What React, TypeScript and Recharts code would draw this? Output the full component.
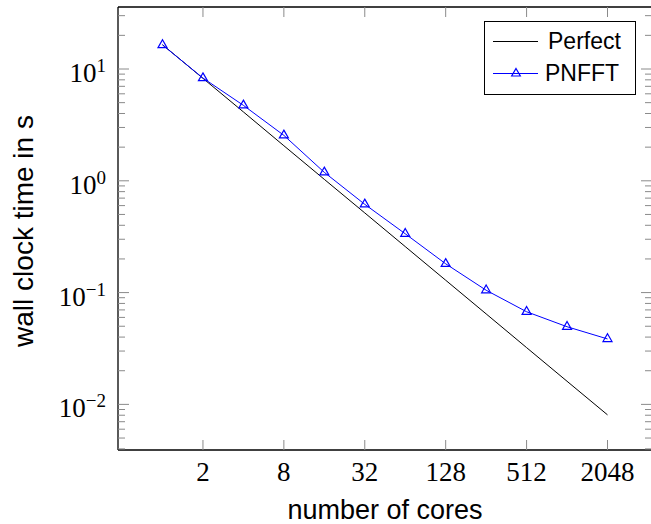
import React from 'react';
import { LineChart, Line, XAxis, YAxis, Legend } from 'recharts';

// number of cores (log2 axis) and wall clock times in seconds (log10 axis)
const cores = [1, 2, 4, 8, 16, 32, 64, 128, 256, 512, 1024, 2048];
const perfect = [16.5, 8.25, 4.13, 2.06, 1.03, 0.516, 0.258, 0.129, 0.0645, 0.0322, 0.0161, 0.00806];
const pnfft = [16.4, 8.3, 4.73, 2.55, 1.19, 0.616, 0.336, 0.181, 0.105, 0.0674, 0.0495, 0.0385];

const xTicks = [2, 8, 32, 128, 512, 2048];
const yMajor = [0.01, 0.1, 1, 10];
const yTicks = [
  0.004, 0.005, 0.006, 0.007, 0.008, 0.009,
  0.01, 0.02, 0.03, 0.04, 0.05, 0.06, 0.07, 0.08, 0.09,
  0.1, 0.2, 0.3, 0.4, 0.5, 0.6, 0.7, 0.8, 0.9,
  1, 2, 3, 4, 5, 6, 7, 8, 9,
  10, 20, 30,
];

const xDomain = [Math.pow(2, -1.1), Math.pow(2, 12.1)];
const yDomain = [Math.pow(10, -2.408), Math.pow(10, 1.5546)];

const data = cores.map((c, i) => ({ cores: c, perfect: perfect[i], pnfft: pnfft[i] }));

const SERIF = "'Liberation Serif', 'Times New Roman', serif";
const SANS = "'Liberation Sans', Arial, sans-serif";
const TICK_COLOR = '#8a8a8a';
const BLUE = '#0000ff';

const isMajor = (v: number) => yMajor.includes(v);

// left axis: ticks point inward, labels 10^n on decades
const LeftTick = (props: any) => {
  const { x, y, payload } = props;
  const v = payload.value;
  const ax = x + 12;
  const major = isMajor(v);
  const e = Math.round(Math.log10(v));
  return (
    <g>
      <line x1={ax} x2={ax + (major ? 11 : 7)} y1={y} y2={y} stroke={TICK_COLOR} strokeWidth={1} />
      {major && (
        <text x={x} y={y + 13} textAnchor="end" fontFamily={SERIF} fontSize={27} fill="#000">
          10
          <tspan dy={-10} fontSize={19}>{e < 0 ? '\u2212' + Math.abs(e) : String(e)}</tspan>
        </text>
      )}
    </g>
  );
};

const RightTick = (props: any) => {
  const { x, y, payload } = props;
  const major = isMajor(payload.value);
  return <line x1={x} x2={x - (major ? 11 : 7)} y1={y} y2={y} stroke={TICK_COLOR} strokeWidth={1} />;
};

const BottomTick = (props: any) => {
  const { x, y, payload } = props;
  return (
    <g>
      <line x1={x} x2={x} y1={y} y2={y - 10} stroke={TICK_COLOR} strokeWidth={1} />
      <text x={x} y={y + 31} textAnchor="middle" fontFamily={SERIF} fontSize={27} fill="#000">
        {payload.value}
      </text>
    </g>
  );
};

const TopTick = (props: any) => {
  const { x, y } = props;
  return <line x1={x} x2={x} y1={y} y2={y + 10} stroke={TICK_COLOR} strokeWidth={1} />;
};

const triangle = (cx: number, cy: number, r: number) =>
  `M${cx},${cy - r} L${cx + r * 0.866},${cy + r / 2} L${cx - r * 0.866},${cy + r / 2} Z`;

const renderTriangle = (p: any) => (
  <path key={`tri-${p.index}`} d={triangle(p.cx, p.cy, 5.2)} fill="none" stroke={BLUE} strokeWidth={1.2} />
);

const renderYLabel = (p: any) => {
  const vb = p.viewBox;
  const cx = vb.x + 33;
  const cy = vb.y + vb.height / 2 + 2.5;
  return (
    <text x={cx} y={cy} transform={`rotate(-90 ${cx} ${cy})`} textAnchor="middle" fontFamily={SANS} fontSize={28} fill="#000">
      wall clock time in s
    </text>
  );
};

const renderXLabel = (p: any) => {
  const vb = p.viewBox;
  return (
    <text x={vb.x + vb.width / 2} y={vb.y + 69} textAnchor="middle" fontFamily={SANS} fontSize={27} fill="#000">
      number of cores
    </text>
  );
};

const LegendBox = () => (
  <svg width={152} height={74} style={{ display: 'block' }}>
    <rect x={0.5} y={0.5} width={151} height={73} fill="#fff" stroke="#000" strokeWidth={1} />
    <line x1={9} x2={54} y1={20.5} y2={20.5} stroke="#000" strokeWidth={1} />
    <text x={64} y={28} fontFamily={SANS} fontSize={23} fill="#000">Perfect</text>
    <line x1={9} x2={54} y1={52.5} y2={52.5} stroke={BLUE} strokeWidth={1} />
    <path d={triangle(32, 52.5, 5)} fill="none" stroke={BLUE} strokeWidth={1.2} />
    <text x={61} y={60} fontFamily={SANS} fontSize={23} fill="#000">PNFFT</text>
  </svg>
);

export default function App() {
  return (
    <div style={{ position: 'absolute', left: 0, top: 0, width: 651, height: 524, overflow: 'hidden', background: '#fff' }}>
      <LineChart width={660} height={524} data={data} margin={{ top: 0, right: 0, bottom: 0, left: 0 }}>
        <XAxis
          xAxisId="bottom"
          dataKey="cores"
          type="number"
          scale="log"
          domain={xDomain}
          allowDataOverflow
          ticks={xTicks}
          interval={0}
          height={74}
          tickSize={0}
          tickMargin={0}
          tick={<BottomTick />}
          axisLine={{ stroke: '#000', strokeWidth: 1.3 }}
          label={renderXLabel}
        />
        <XAxis
          xAxisId="top"
          orientation="top"
          dataKey="cores"
          type="number"
          scale="log"
          domain={xDomain}
          allowDataOverflow
          ticks={xTicks}
          interval={0}
          height={7}
          tickSize={0}
          tickMargin={0}
          tick={<TopTick />}
          axisLine={{ stroke: '#000', strokeWidth: 1.3 }}
        />
        <YAxis
          yAxisId="left"
          type="number"
          scale="log"
          domain={yDomain}
          allowDataOverflow
          ticks={yTicks}
          interval={0}
          width={118}
          tickSize={0}
          tickMargin={12}
          tick={<LeftTick />}
          axisLine={{ stroke: '#000', strokeWidth: 1.3 }}
          label={renderYLabel}
        />
        <YAxis
          yAxisId="right"
          orientation="right"
          type="number"
          scale="log"
          domain={yDomain}
          allowDataOverflow
          ticks={yTicks}
          interval={0}
          width={8}
          tickSize={0}
          tickMargin={0}
          tick={<RightTick />}
          axisLine={{ stroke: '#000', strokeWidth: 1.3 }}
        />
        <Legend
          layout="horizontal"
          align="center"
          verticalAlign="middle"
          content={<LegendBox />}
          wrapperStyle={{ position: 'absolute', left: 484, top: 21, width: 152, height: 74 }}
        />
        <Line
          xAxisId="bottom"
          yAxisId="left"
          type="linear"
          dataKey="perfect"
          name="Perfect"
          stroke="#000"
          strokeWidth={1}
          dot={false}
          isAnimationActive={false}
        />
        <Line
          xAxisId="bottom"
          yAxisId="left"
          type="linear"
          dataKey="pnfft"
          name="PNFFT"
          stroke={BLUE}
          strokeWidth={1}
          dot={renderTriangle}
          isAnimationActive={false}
        />
      </LineChart>
    </div>
  );
}
